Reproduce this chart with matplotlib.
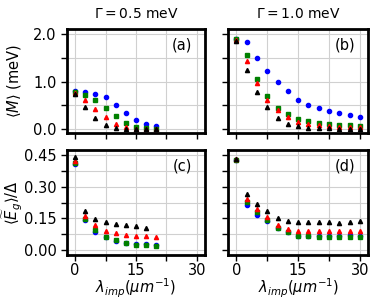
import numpy as np
import matplotlib.pyplot as plt

# lambda_imp values
x_a = np.arange(0, 20.1, 2.5)
x_b = np.arange(0, 30.1, 2.5)

# (a) <M>, Gamma = 0.5 meV
a_blue = [0.81, 0.77, 0.73, 0.67, 0.51, 0.35, 0.19, 0.11, 0.06]
a_green = [0.77, 0.72, 0.61, 0.45, 0.27, 0.13, 0.05, 0.02, 0.01]
a_red = [0.76, 0.61, 0.42, 0.25, 0.10, 0.04, 0.01, 0.0, 0.0]
a_black = [0.73, 0.46, 0.24, 0.08, 0.02, 0.005, 0.0, 0.0, 0.0]

# (b) <M>, Gamma = 1.0 meV
b_blue = [1.90, 1.82, 1.50, 1.22, 0.98, 0.80, 0.62, 0.51, 0.45, 0.39, 0.34, 0.29, 0.26]
b_green = [1.89, 1.55, 1.06, 0.70, 0.45, 0.31, 0.21, 0.17, 0.14, 0.11, 0.09, 0.08, 0.07]
b_red = [1.87, 1.42, 0.96, 0.61, 0.41, 0.25, 0.16, 0.11, 0.09, 0.06, 0.05, 0.04, 0.04]
b_black = [1.84, 1.24, 0.79, 0.47, 0.23, 0.12, 0.06, 0.035, 0.03, 0.02, 0.015, 0.015, 0.015]

# (c) <Eg>/Delta, Gamma = 0.5 meV
c_blue = [0.41, 0.140, 0.087, 0.060, 0.044, 0.035, 0.030, 0.027, 0.024]
c_green = [0.415, 0.145, 0.093, 0.063, 0.046, 0.033, 0.025, 0.024, 0.021]
c_red = [0.42, 0.161, 0.118, 0.090, 0.079, 0.071, 0.066, 0.065, 0.062]
c_black = [0.44, 0.185, 0.145, 0.131, 0.125, 0.118, 0.115, 0.104, np.nan]

# (d) <Eg>/Delta, Gamma = 1.0 meV
d_blue = [0.425, 0.212, 0.166, 0.137, 0.106, 0.084, 0.068, 0.066, 0.065, 0.066, 0.065, 0.069, 0.066]
d_green = [0.428, 0.227, 0.180, 0.144, 0.106, 0.085, 0.068, 0.065, 0.063, 0.063, 0.062, 0.060, 0.063]
d_red = [0.43, 0.243, 0.195, 0.155, 0.117, 0.101, 0.092, 0.090, 0.088, 0.090, 0.088, 0.090, 0.090]
d_black = [0.43, 0.268, 0.218, 0.185, 0.153, 0.139, 0.133, 0.133, 0.133, 0.134, 0.128, 0.133, 0.136]

fig = plt.figure(figsize=(3.74, 2.99), dpi=100)

pos = {
    'a': [0.179, 0.555, 0.369, 0.348],
    'b': [0.610, 0.555, 0.374, 0.348],
    'c': [0.179, 0.147, 0.369, 0.351],
    'd': [0.610, 0.147, 0.374, 0.351],
}

def draw(ax, x, blue, green, red, black):
    ax.plot(x, blue, 'o', color='blue', ms=3, ls='none')
    ax.plot(x, green, 's', color='green', ms=3, ls='none')
    ax.plot(x, red, '^', color='red', ms=3, ls='none')
    ax.plot(x, black, '^', color='black', ms=3, ls='none')
    ax.set_xlim(-2, 32)
    ax.set_xticks([0, 7.5, 15, 22.5, 30])
    ax.grid(True, color='#d0d0d0', lw=0.8)
    ax.set_axisbelow(True)
    for s in ax.spines.values():
        s.set_linewidth(2)
    ax.tick_params(length=4, width=1, labelsize=10.5)

axa = fig.add_axes(pos['a'])
axb = fig.add_axes(pos['b'])
axc = fig.add_axes(pos['c'])
axd = fig.add_axes(pos['d'])

draw(axa, x_a, a_blue, a_green, a_red, a_black)
draw(axb, x_b, b_blue, b_green, b_red, b_black)
draw(axc, x_a, c_blue, c_green, c_red, c_black)
draw(axd, x_b, d_blue, d_green, d_red, d_black)

for ax in (axa, axb):
    ax.set_ylim(-0.08, 2.1)
    ax.set_yticks([0, 0.5, 1.0, 1.5, 2.0])
    ax.set_xticklabels([])
for ax in (axc, axd):
    ax.set_ylim(-0.024, 0.474)
    ax.set_yticks([0, 0.075, 0.15, 0.225, 0.30, 0.375, 0.45])
    ax.set_xticklabels(['0', '', '15', '', '30'])
    ax.tick_params(axis='x', pad=2)
    ax.set_xlabel(r'$\lambda_{imp} (\mu m^{-1})$', fontsize=10.5, labelpad=-1)

axa.set_yticklabels(['0.0', '', '1.0', '', '2.0'])
axc.set_yticklabels(['0.00', '', '0.15', '', '0.30', '', '0.45'])
axb.set_yticklabels([])
axd.set_yticklabels([])

axa.set_ylabel(r'$\langle M \rangle$ (meV)', fontsize=10.5, labelpad=7)
axc.set_ylabel(r'$\langle \widetilde{E}_g \rangle/\Delta$', fontsize=10.5, labelpad=0)

axa.set_title(r'$\Gamma = 0.5$ meV', fontsize=10, pad=8)
axb.set_title(r'$\Gamma = 1.0$ meV', fontsize=10, pad=8)

for ax, lab in zip((axa, axb, axc, axd), ['(a)', '(b)', '(c)', '(d)']):
    ax.text(0.91, 0.85, lab, transform=ax.transAxes, ha='right', va='center', fontsize=10.5)

fig.savefig('out.png', dpi=100)
